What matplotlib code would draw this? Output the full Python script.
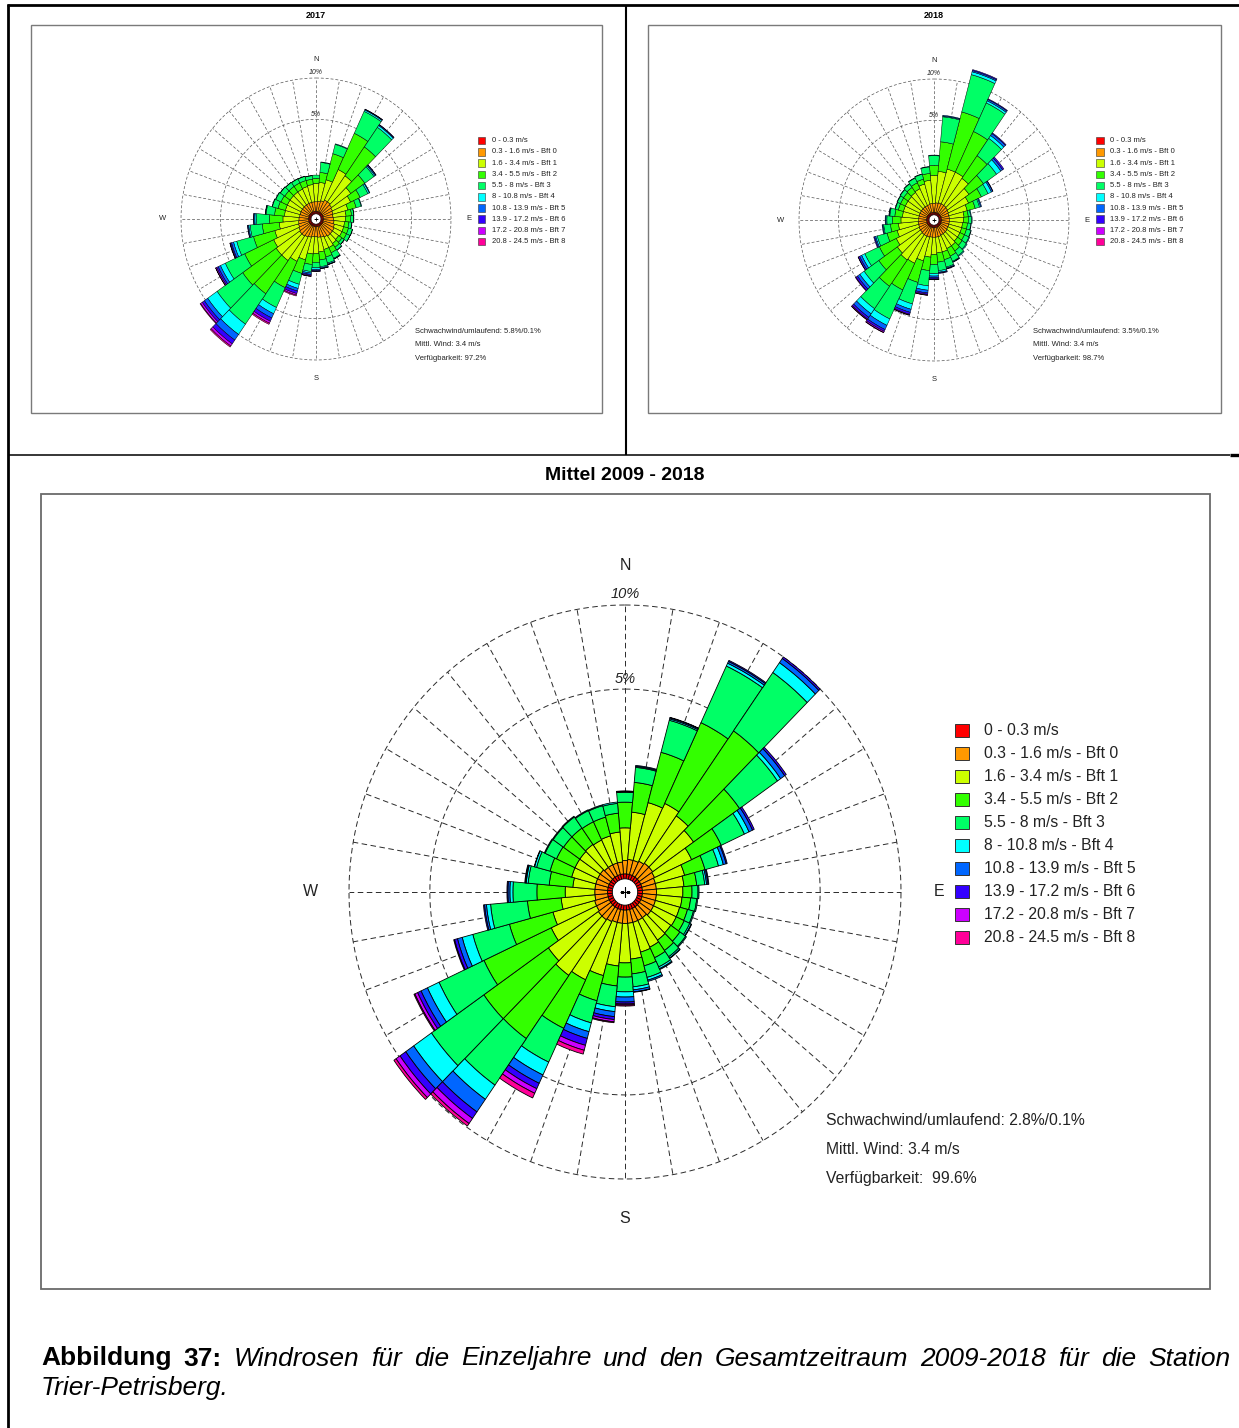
import numpy as np
import matplotlib
matplotlib.use("Agg")
import matplotlib.pyplot as plt
from matplotlib.lines import Line2D
from matplotlib.patches import Rectangle

plt.rcParams['font.family'] = ['Liberation Sans', 'DejaVu Sans']

# ---- data -------------------------------------------------------------
directions = np.arange(0, 360, 10)   # sector centres, degrees from north

class_labels = ['0 - 0.3 m/s', '0.3 - 1.6 m/s - Bft 0', '1.6 - 3.4 m/s - Bft 1',
                '3.4 - 5.5 m/s - Bft 2', '5.5 - 8 m/s - Bft 3', '8 - 10.8 m/s - Bft 4',
                '10.8 - 13.9 m/s - Bft 5', '13.9 - 17.2 m/s - Bft 6',
                '17.2 - 20.8 m/s - Bft 7', '20.8 - 24.5 m/s - Bft 8']
class_colors = ['#ff0000', '#ff9900', '#ccff00', '#33ff00', '#00ff66',
                '#00ffff', '#0066ff', '#3300ff', '#cc00ff', '#ff0099']

# cumulative frequency in % per sector (up to the top of each speed class,
# rows stop at the last class that occurs)
cum_2017 = [
    [0.03, 0.15, 0.64, 0.83, 0.97],
    [0.03, 0.16, 0.68, 1.10, 1.62, 1.65],
    [0.03, 0.18, 0.83, 2.30, 3.00, 3.05],
    [0.03, 0.22, 1.50, 4.50, 7.10, 7.28, 7.36, 7.40],
    [0.03, 0.22, 1.40, 3.90, 6.30, 6.55, 6.65, 6.70],
    [0.03, 0.20, 0.99, 1.95, 2.75, 2.85, 2.93, 2.96],
    [0.03, 0.18, 0.80, 1.30, 1.80, 1.90, 1.94],
    [0.03, 0.17, 0.60, 0.95, 1.20, 1.23],
    [0.03, 0.16, 0.50, 0.70, 0.79, 0.80],
    [0.03, 0.17, 0.48, 0.65, 0.78, 0.79],
    [0.03, 0.18, 0.45, 0.60, 0.71, 0.72],
    [0.03, 0.20, 0.45, 0.62, 0.78, 0.79],
    [0.03, 0.22, 0.45, 0.62, 0.77, 0.78],
    [0.03, 0.22, 0.42, 0.55, 0.65, 0.66],
    [0.03, 0.22, 0.45, 0.60, 0.72, 0.74],
    [0.03, 0.20, 0.50, 0.70, 0.95, 0.98, 0.99],
    [0.03, 0.18, 0.50, 0.78, 1.05, 1.10, 1.12, 1.13],
    [0.03, 0.17, 0.55, 0.85, 1.15, 1.20, 1.24, 1.25],
    [0.03, 0.16, 0.60, 0.95, 1.20, 1.28, 1.34, 1.37, 1.39],
    [0.03, 0.16, 0.62, 1.05, 1.40, 1.48, 1.56, 1.62, 1.66, 1.67],
    [0.03, 0.18, 0.90, 1.60, 2.30, 2.60, 2.80, 3.00, 3.12, 3.20],
    [0.03, 0.20, 1.10, 2.90, 4.80, 5.50, 6.00, 6.40, 6.65, 6.80],
    [0.03, 0.22, 1.30, 4.20, 8.30, 10.00, 11.00, 11.70, 12.10, 12.30],
    [0.03, 0.22, 1.30, 4.40, 8.00, 9.60, 10.20, 10.60, 10.90, 11.00],
    [0.03, 0.20, 1.20, 3.40, 5.50, 6.10, 6.40, 6.60, 6.72, 6.75],
    [0.03, 0.18, 1.00, 2.30, 3.70, 4.00, 4.20, 4.30, 4.35, 4.37],
    [0.03, 0.17, 0.75, 1.60, 2.40, 2.50, 2.57, 2.60],
    [0.03, 0.16, 0.60, 1.20, 1.95, 2.05, 2.12, 2.14],
    [0.03, 0.15, 0.55, 0.95, 1.38, 1.41, 1.43],
    [0.03, 0.15, 0.55, 0.85, 1.12, 1.14],
    [0.03, 0.15, 0.55, 0.82, 1.08, 1.10],
    [0.03, 0.15, 0.55, 0.80, 1.04, 1.05],
    [0.03, 0.15, 0.55, 0.80, 1.01, 1.02],
    [0.03, 0.15, 0.55, 0.80, 0.99, 1.00],
    [0.03, 0.15, 0.57, 0.80, 0.98, 0.99],
    [0.03, 0.15, 0.60, 0.80, 0.95, 0.96],
]

cum_2018 = [
    [0.03, 0.14, 1.00, 1.50, 2.08, 2.12],
    [0.03, 0.15, 1.20, 3.10, 5.40, 5.48, 5.56],
    [0.03, 0.16, 1.40, 6.30, 11.40, 11.85, 12.05, 12.20],
    [0.03, 0.16, 1.40, 4.80, 8.40, 8.70, 8.90, 9.00],
    [0.03, 0.16, 1.30, 3.10, 5.00, 5.35, 5.60, 5.70],
    [0.03, 0.15, 1.00, 2.00, 3.20, 3.65, 3.85, 3.99],
    [0.03, 0.14, 0.80, 1.50, 1.95, 2.20, 2.30, 2.33],
    [0.03, 0.13, 0.65, 1.00, 1.22, 1.28, 1.33],
    [0.03, 0.13, 0.50, 0.65, 0.74, 0.77],
    [0.03, 0.13, 0.48, 0.65, 0.78, 0.80],
    [0.03, 0.13, 0.45, 0.62, 0.75, 0.77],
    [0.03, 0.13, 0.45, 0.62, 0.80, 0.82],
    [0.03, 0.13, 0.45, 0.62, 0.82, 0.85],
    [0.03, 0.14, 0.45, 0.65, 0.86, 0.90],
    [0.03, 0.14, 0.50, 0.72, 0.96, 1.00],
    [0.03, 0.14, 0.50, 0.80, 1.05, 1.08, 1.10],
    [0.03, 0.15, 0.55, 0.85, 1.20, 1.25, 1.28, 1.30],
    [0.03, 0.15, 0.55, 0.90, 1.30, 1.38, 1.42, 1.45],
    [0.03, 0.15, 0.60, 1.00, 1.45, 1.58, 1.68, 1.75, 1.78, 1.80],
    [0.03, 0.15, 0.70, 1.30, 2.20, 2.50, 2.70, 2.80, 2.86, 2.88],
    [0.03, 0.16, 0.90, 2.10, 3.80, 4.30, 4.60, 4.80, 4.87, 4.90],
    [0.03, 0.16, 1.15, 3.00, 6.00, 6.80, 7.35, 7.60, 7.75, 7.80],
    [0.03, 0.16, 1.20, 3.30, 5.90, 6.60, 7.10, 7.35, 7.45, 7.50],
    [0.03, 0.15, 1.10, 2.50, 4.00, 4.50, 4.80, 5.00, 5.06],
    [0.03, 0.15, 0.95, 2.00, 3.20, 3.50, 3.70, 3.83, 3.86],
    [0.03, 0.14, 0.80, 1.30, 1.90, 2.00, 2.08, 2.14],
    [0.03, 0.14, 0.70, 1.05, 1.40, 1.45, 1.49],
    [0.03, 0.13, 0.60, 0.95, 1.22, 1.27, 1.31],
    [0.03, 0.13, 0.55, 0.85, 1.08, 1.11, 1.13],
    [0.03, 0.13, 0.55, 0.75, 0.88, 0.90],
    [0.03, 0.13, 0.55, 0.75, 0.90, 0.92],
    [0.03, 0.13, 0.55, 0.76, 0.93, 0.95],
    [0.03, 0.13, 0.57, 0.80, 0.98, 1.00],
    [0.03, 0.13, 0.60, 0.85, 1.08, 1.10],
    [0.03, 0.13, 0.70, 0.90, 1.13, 1.15],
    [0.03, 0.14, 0.80, 1.10, 1.43, 1.45],
]

cum_mittel = [
    [0.04, 0.12, 0.50, 0.98, 1.21, 1.22, 1.23, 1.24],
    [0.04, 0.13, 0.78, 1.47, 1.90, 1.93, 1.96],
    [0.04, 0.13, 1.04, 2.54, 3.84, 3.90, 3.95, 3.97],
    [0.04, 0.14, 1.16, 4.24, 7.55, 7.74, 7.86, 7.93],
    [0.04, 0.15, 1.05, 4.70, 8.72, 9.52, 9.87, 10.00],
    [0.04, 0.15, 0.92, 2.57, 4.55, 4.74, 4.99, 5.09],
    [0.04, 0.14, 0.71, 1.48, 2.28, 2.46, 2.60, 2.67],
    [0.04, 0.13, 0.50, 0.90, 1.23, 1.36, 1.44, 1.47],
    [0.04, 0.13, 0.46, 0.68, 0.84, 0.88, 0.91, 0.93],
    [0.04, 0.13, 0.44, 0.59, 0.70, 0.72],
    [0.04, 0.13, 0.43, 0.57, 0.68, 0.70],
    [0.04, 0.13, 0.42, 0.55, 0.66, 0.68],
    [0.04, 0.13, 0.42, 0.56, 0.67, 0.70, 0.71],
    [0.04, 0.13, 0.41, 0.59, 0.72, 0.74],
    [0.04, 0.12, 0.42, 0.62, 0.76, 0.79, 0.80],
    [0.04, 0.12, 0.45, 0.64, 0.83, 0.87, 0.89],
    [0.04, 0.12, 0.47, 0.71, 0.95, 1.01, 1.04],
    [0.04, 0.12, 0.55, 0.82, 1.10, 1.17, 1.22, 1.23],
    [0.04, 0.12, 0.61, 0.88, 1.21, 1.34, 1.47, 1.52, 1.55, 1.58],
    [0.04, 0.12, 0.67, 1.08, 1.61, 1.75, 1.90, 1.99, 2.06, 2.09],
    [0.04, 0.12, 0.91, 1.54, 2.23, 2.54, 2.79, 3.06, 3.26, 3.42],
    [0.04, 0.13, 1.14, 2.75, 4.28, 4.95, 5.41, 5.72, 5.99, 6.27],
    [0.04, 0.14, 1.26, 3.89, 6.75, 7.78, 8.75, 9.28, 9.70, 9.91],
    [0.04, 0.14, 1.15, 3.90, 7.33, 8.74, 9.41, 9.91, 10.26, 10.45],
    [0.04, 0.13, 0.87, 3.18, 5.53, 6.24, 6.65, 6.88, 7.06, 7.12],
    [0.04, 0.13, 0.73, 1.88, 3.26, 3.73, 3.95, 4.09, 4.13],
    [0.04, 0.12, 0.54, 1.26, 2.39, 2.54, 2.61, 2.65],
    [0.04, 0.12, 0.47, 1.02, 1.65, 1.74, 1.80, 1.83],
    [0.04, 0.12, 0.36, 0.76, 1.24, 1.29, 1.31, 1.33],
    [0.04, 0.12, 0.40, 0.79, 1.10, 1.15, 1.16],
    [0.04, 0.12, 0.40, 0.75, 1.02, 1.04],
    [0.04, 0.12, 0.40, 0.74, 1.01, 1.03],
    [0.04, 0.11, 0.41, 0.74, 1.02, 1.04],
    [0.04, 0.11, 0.40, 0.73, 0.98, 1.00],
    [0.04, 0.11, 0.41, 0.73, 0.97, 0.99],
    [0.04, 0.11, 0.44, 0.76, 0.96, 0.99],
]

stats_2017 = ['Schwachwind/umlaufend: 5.8%/0.1%', 'Mittl. Wind: 3.4 m/s', 'Verfügbarkeit: 97.2%']
stats_2018 = ['Schwachwind/umlaufend: 3.5%/0.1%', 'Mittl. Wind: 3.4 m/s', 'Verfügbarkeit: 98.7%']
stats_mittel = ['Schwachwind/umlaufend: 2.8%/0.1%', 'Mittl. Wind: 3.4 m/s', 'Verfügbarkeit:  99.6%']

# ---- figure -----------------------------------------------------------
W, H = 1239, 1428
fig = plt.figure(figsize=(W / 100, H / 100), dpi=100)


def fx(x):
    return x / W


def fy(y):
    return 1 - y / H


def sqrt_fwd(r):
    return np.sqrt(np.maximum(r, 0))


def sqrt_inv(r):
    return np.square(r)


def draw_rose(rows, cx, cy, rv, rh, calm_r, bar_lw, grid_lw, grid_col, dash,
              fs_dir, fs_pct, plus_ms, lab_r):
    rmax = 14.0
    s = np.sqrt(rmax / 10.0)
    ax = fig.add_axes([fx(cx - rh * s), fy(cy + rv * s), 2 * rh * s / W, 2 * rv * s / H],
                      projection='polar')
    ax.set_theta_zero_location('N')
    ax.set_theta_direction(-1)
    ax.set_rscale('function', functions=(sqrt_fwd, sqrt_inv))
    ax.set_ylim(0, rmax)
    ax.set_aspect('auto')
    ax.set_axis_off()

    theta = np.deg2rad(directions)
    cum = np.array([r + [r[-1]] * (10 - len(r)) for r in rows])
    lower = np.hstack([np.zeros((len(rows), 1)), cum[:, :-1]])
    for k in range(10):
        h = cum[:, k] - lower[:, k]
        m = h > 0
        ax.bar(theta[m], h[m], width=np.deg2rad(10), bottom=lower[m, k],
               color=class_colors[k], edgecolor='black', linewidth=bar_lw, zorder=3)

    # dashed rings and spokes
    t = np.linspace(0, 2 * np.pi, 721)
    for ring in (5, 10):
        ax.plot(t, np.full_like(t, ring), color=grid_col, lw=grid_lw, ls=(0, dash), zorder=1)
    for th in theta:
        ax.plot([th, th], [0, 10], color=grid_col, lw=grid_lw, ls=(0, dash), zorder=1)

    # calm circle
    ax.fill(t, np.full_like(t, calm_r), facecolor='white', edgecolor='black',
            lw=bar_lw, zorder=4)
    ax.plot([0], [0], marker='+', color='black', ms=plus_ms, mew=bar_lw + 0.2, zorder=5)

    for ang, lab in zip([0, 90, 180, 270], ['N', 'E', 'S', 'W']):
        ax.text(np.deg2rad(ang), lab_r, lab, ha='center', va='center',
                fontsize=fs_dir, color='#222222')
    ax.text(0, 10.75, '10%', ha='center', va='center', fontsize=fs_pct,
            style='italic', color='#222222')
    ax.text(0, 5.5, '5%', ha='center', va='center', fontsize=fs_pct,
            style='italic', color='#222222')
    return ax


def draw_legend(x0, y0, dy, box, tx, fs, lw):
    for i, (lab, col) in enumerate(zip(class_labels, class_colors)):
        y = y0 + i * dy
        fig.add_artist(Rectangle((fx(x0), fy(y + box / 2)), box / W, box / H,
                                 facecolor=col, edgecolor='#333333', lw=lw,
                                 transform=fig.transFigure))
        fig.text(fx(tx), fy(y), lab, fontsize=fs, va='center', ha='left', color='#222222')


def draw_stats(lines, x, ys, fs):
    for txt, y in zip(lines, ys):
        fig.text(fx(x), fy(y), txt, fontsize=fs, va='center', ha='left', color='#222222')


def frame(x0, y0, x1, y1, color, lw):
    fig.add_artist(Rectangle((fx(x0), fy(y1)), (x1 - x0) / W, (y1 - y0) / H, fill=False,
                             edgecolor=color, lw=lw, transform=fig.transFigure))


def line(x0, y0, x1, y1, lw, color='black'):
    fig.add_artist(Line2D([fx(x0), fx(x1)], [fy(y0), fy(y1)], lw=lw, color=color,
                          transform=fig.transFigure, solid_capstyle='butt'))


# page lines
line(7, 5, 1239, 5, 2.0)
line(8, 4, 8, 1428, 2.0)
line(626, 5, 626, 455, 1.5)
line(8, 455, 1230, 455, 1.1)
line(1230, 455, 1239, 455, 2.4)

# panel frames
frame(31, 25, 602, 413, '#7a7a7a', 1.0)
frame(648, 25, 1221, 413, '#7a7a7a', 1.0)
frame(41, 494, 1210, 1289, '#6a6a6a', 1.3)

# titles
fig.text(fx(316), fy(15), '2017', fontsize=6.5, fontweight='bold', ha='center', va='center')
fig.text(fx(934), fy(15), '2018', fontsize=6.5, fontweight='bold', ha='center', va='center')
fig.text(fx(625), fy(476), 'Mittel 2009 - 2018', fontsize=14, fontweight='bold',
         ha='center', va='center')

# roses
draw_rose(cum_2017, 316, 219, 141, 135, 0.013, 0.35, 0.5, '#555555', (4.2, 2.8),
          5.5, 5.0, 3, 12.85)
draw_rose(cum_2018, 934, 220, 141, 135, 0.013, 0.35, 0.5, '#555555', (4.2, 2.8),
          5.5, 5.0, 3, 12.85)
draw_rose(cum_mittel, 625, 892, 287, 276, 0.021, 0.6, 0.7, '#2a2a2a', (5.7, 3.6),
          11.5, 10.5, 7, 12.95)

# legends
draw_legend(478, 140.7, 11.22, 7.5, 492, 5.5, 0.4)
draw_legend(1096, 140.7, 11.22, 7.5, 1110, 5.5, 0.4)
draw_legend(955, 730.3, 23.0, 13.5, 984, 11.3, 0.7)

# statistics
draw_stats(stats_2017, 415, [331.5, 345, 359], 5.5)
draw_stats(stats_2018, 1033, [331.5, 345, 359], 5.5)
draw_stats(stats_mittel, 826, [1120.5, 1149.5, 1178], 11.3)

# caption (first line justified)
words = [('Abbildung', 'bold', 'normal'), ('37:', 'bold', 'normal')] + \
        [(w, 'normal', 'italic') for w in
         'Windrosen für die Einzeljahre und den Gesamtzeitraum 2009-2018 für die Station'.split()]
arts = [fig.text(0, fy(1365.5), w, fontsize=19, fontweight=wt, style=st, va='baseline')
        for w, wt, st in words]
renderer = fig.canvas.get_renderer()
widths = [a.get_window_extent(renderer).width for a in arts]
gap = ((1230 - 41) - sum(widths)) / (len(arts) - 1)
xpos = 41
for a, wd in zip(arts, widths):
    a.set_x(fx(xpos))
    xpos += wd + gap
fig.text(fx(41), fy(1395), 'Trier-Petrisberg.', fontsize=19, style='italic', va='baseline')

fig.savefig('out.png', dpi=100)
